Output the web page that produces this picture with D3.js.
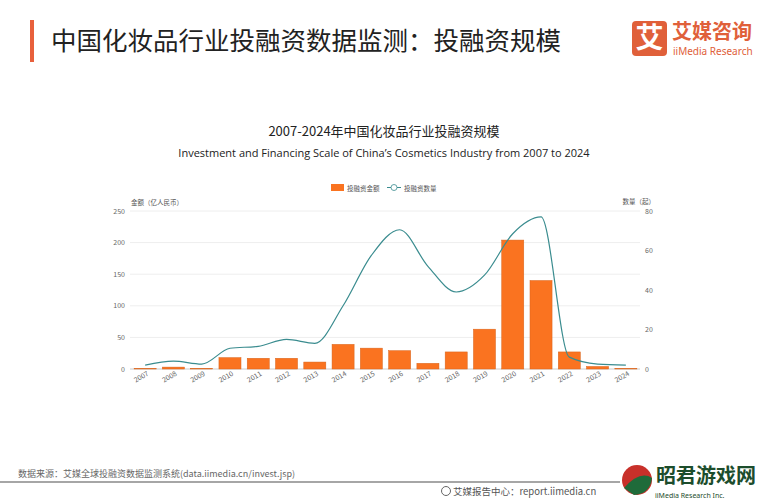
<!DOCTYPE html>
<html>
<head>
<meta charset="utf-8">
<script src="https://cdn.jsdelivr.net/npm/d3@7"></script>
<style>
  body { margin: 0; background: #fff; font-family: "Noto Sans CJK SC", "Noto Sans", sans-serif; }
  svg text { font-family: "Noto Sans CJK SC", "Noto Sans", sans-serif; }
</style>
</head>
<body>
<svg id="chart" width="769" height="500"></svg>
<script>
// chart data
var years = ['2007','2008','2009','2010','2011','2012','2013','2014','2015','2016','2017','2018','2019','2020','2021','2022','2023','2024'];
var amounts = [1, 3, 1, 18, 17, 17, 11, 39, 33, 29, 9, 27, 63, 204, 140, 27, 4, 1];
var counts = [2, 4, 2.5, 10.5, 11.5, 15, 13, 32, 57.5, 70.5, 52, 39, 47.5, 68.5, 77, 6, 2.5, 2];
var leftTicks = [0, 50, 100, 150, 200, 250];
var rightTicks = [0, 20, 40, 60, 80];

var svg = d3.select('#chart');

// header
svg.append('rect').attr('x', 30).attr('y', 20).attr('width', 4).attr('height', 42).attr('fill', '#e8603c');
svg.append('text').attr('x', 51).attr('y', 50).attr('font-size', 25.5).attr('fill', '#222')
	.text('中国化妆品行业投融资数据监测：投融资规模');

// logo
svg.append('rect').attr('x', 632).attr('y', 21).attr('width', 35).attr('height', 35).attr('rx', 4).attr('fill', '#e0603a');
svg.append('text').attr('x', 649.5).attr('y', 48).attr('text-anchor', 'middle').attr('font-size', 28)
	.attr('font-weight', 'bold').attr('fill', '#fff').text('艾');
svg.append('text').attr('x', 672).attr('y', 39).attr('font-size', 20).attr('font-weight', 'bold').attr('fill', '#e0603a').text('艾媒咨询');
svg.append('text').attr('x', 673).attr('y', 55).attr('font-size', 10).attr('fill', '#e0603a')
	.style('font-family', '"Noto Sans", sans-serif').text('iiMedia Research');

// chart titles
svg.append('text').attr('x', 384).attr('y', 136).attr('text-anchor', 'middle').attr('font-size', 13).attr('fill', '#222')
	.text('2007-2024年中国化妆品行业投融资规模');
svg.append('text').attr('x', 384).attr('y', 157).attr('text-anchor', 'middle').attr('font-size', 11).attr('fill', '#222')
	.style('font-family', '"Open Sans", "Noto Sans", sans-serif')
	.text('Investment and Financing Scale of China\u2019s Cosmetics Industry from 2007 to 2024');

var margin = { left: 131, right: 640, top: 211, bottom: 369 };

var x = d3.scaleBand().domain(years).range([margin.left, margin.right]).paddingInner(0.22).paddingOuter(0.11);
var yL = d3.scaleLinear().domain([0, 250]).range([margin.bottom, margin.top]);
var yR = d3.scaleLinear().domain([0, 80]).range([margin.bottom, margin.top]);

// grid
svg.append('g').selectAll('line').data(leftTicks).enter().append('line')
	.attr('x1', 130).attr('x2', 640)
	.attr('y1', d => yL(d)).attr('y2', d => yL(d))
	.attr('stroke', d => d === 0 ? '#ccc' : '#eee').attr('stroke-width', 1);

// left axis labels
svg.append('g').selectAll('text').data(leftTicks).enter().append('text')
	.attr('x', 125).attr('y', d => yL(d) + 2.5).attr('text-anchor', 'end')
	.attr('font-size', 7).attr('fill', '#666').text(d => d);
svg.append('text').attr('x', 131).attr('y', 205).attr('font-size', 6.5).attr('fill', '#555').text('金额（亿人民币）');

// right axis labels
svg.append('g').selectAll('text').data(rightTicks).enter().append('text')
	.attr('x', 645).attr('y', d => yR(d) + 2.5)
	.attr('font-size', 7).attr('fill', '#666').text(d => d);
svg.append('text').attr('x', 655).attr('y', 204).attr('text-anchor', 'end').attr('font-size', 6.5).attr('fill', '#555').text('数量（起）');

// bars
svg.append('g').selectAll('rect').data(amounts).enter().append('rect')
	.attr('x', (d, i) => x(years[i]))
	.attr('width', x.bandwidth())
	.attr('y', d => yL(d))
	.attr('height', d => yL(0) - yL(d))
	.attr('fill', '#fa7320')
	.attr('stroke', '#d8641c').attr('stroke-width', 0.5);

// line
var line = d3.line()
	.x((d, i) => x(years[i]) + x.bandwidth() / 2)
	.y(d => yR(d))
	.curve(d3.curveMonotoneX);
svg.append('path').datum(counts).attr('d', line)
	.attr('fill', 'none').attr('stroke', '#3a8c8f').attr('stroke-width', 1.2);

// x labels
svg.append('g').selectAll('text').data(years).enter().append('text')
	.attr('transform', d => 'translate(' + (x(d) + x.bandwidth() / 2 + 4) + ',375) rotate(-30)')
	.attr('text-anchor', 'end').attr('font-size', 7).attr('fill', '#666').text(d => d);

// legend
svg.append('rect').attr('x', 331).attr('y', 184).attr('width', 13).attr('height', 7).attr('fill', '#fa7320');
svg.append('text').attr('x', 347).attr('y', 190.5).attr('font-size', 6.5).attr('fill', '#555').text('投融资金额');
svg.append('line').attr('x1', 387).attr('x2', 401).attr('y1', 187.5).attr('y2', 187.5).attr('stroke', '#3a8c8f').attr('stroke-width', 1);
svg.append('circle').attr('cx', 394).attr('cy', 187.5).attr('r', 3).attr('fill', '#fff').attr('stroke', '#3a8c8f').attr('stroke-width', 0.8);
svg.append('text').attr('x', 404).attr('y', 190.5).attr('font-size', 6.5).attr('fill', '#555').text('投融资数量');

// footer
svg.append('text').attr('x', 18).attr('y', 477).attr('font-size', 9).attr('fill', '#666')
	.text('数据来源：艾媒全球投融资数据监测系统(data.iimedia.cn/invest.jsp)');
svg.append('line').attr('x1', 0).attr('x2', 620).attr('y1', 482).attr('y2', 482).attr('stroke', '#888').attr('stroke-width', 1.5);
svg.append('circle').attr('cx', 446).attr('cy', 491).attr('r', 4.5).attr('fill', 'none').attr('stroke', '#666').attr('stroke-width', 1);
svg.append('text').attr('x', 453).attr('y', 494.5).attr('font-size', 9.5).attr('fill', '#555')
	.text('艾媒报告中心：report.iimedia.cn');

// watermark
svg.append('circle').attr('cx', 637).attr('cy', 480).attr('r', 15).attr('fill', '#c8302a');
svg.append('path').attr('d', 'M624,488 Q640,470 652,478 Q650,494 634,495 Z').attr('fill', '#1f6b3a');
svg.append('text').attr('x', 656).attr('y', 483).attr('font-size', 20).attr('font-weight', 'bold').attr('fill', '#1c4d2c').text('昭君游戏网');
svg.append('text').attr('x', 655).attr('y', 498).attr('font-size', 7).attr('fill', '#1c4d2c')
	.style('font-family', '"Noto Sans", sans-serif').text('iiMedia Research Inc.');
</script>
</body>
</html>
